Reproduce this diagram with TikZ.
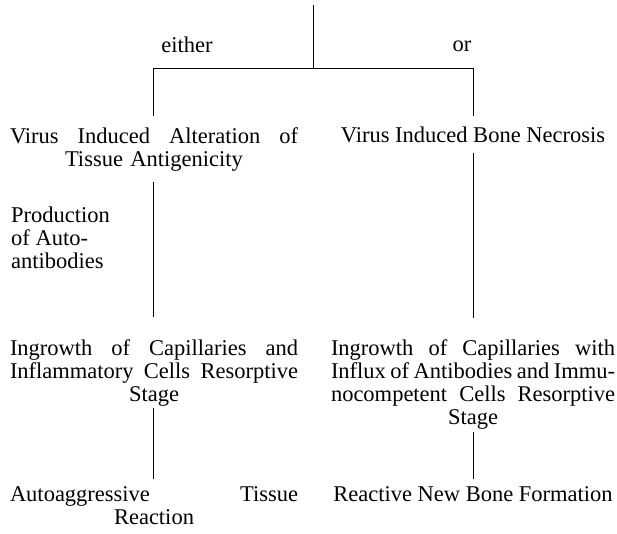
\documentclass[tikz,border=0pt]{standalone}
\usepackage{fontspec}
\setmainfont{Liberation Serif}
\newcommand{\jl}[1]{\leavevmode\hbox to 288pt{#1}}
\newcommand{\jr}[1]{\leavevmode\hbox to 284pt{#1}}
\tikzset{
  lbl/.style={inner sep=0pt, font=\fontsize{22.5}{23}\selectfont},
  lcol/.style={lbl, text width=288pt, align=center, anchor=north},
  rcol/.style={lbl, text width=284pt, align=center, anchor=north},
  rone/.style={lbl, anchor=north},
  ln/.style={line width=1pt}
}
\begin{document}
\begin{tikzpicture}[x=1pt,y=-1pt]
\useasboundingbox (0,0) rectangle (617,533);
% labels
\node[lbl] (either) at (187,45) {either};
\node[lbl] (or) at (462,46) {or};
% row 1
\node[lcol] (l1) at (154,127) {\jl{Virus\hfill Induced\hfill Alteration\hfill of}\\ Tissue Antigenicity};
\node[rone] (r1) at (473,127) {Virus Induced Bone Necrosis};
\node[lbl, anchor=north west, align=left] (prod) at (11,207) {Production\\ of Auto-\\ antibodies};
% row 3
\node[lcol] (l3) at (154,339) {\jl{Ingrowth\hfill of\hfill Capillaries\hfill and}\\ \jl{Inflammatory\hfill Cells\hfill Resorptive}\\ Stage};
\node[rcol] (r3) at (473,339) {\jr{Ingrowth\hfill of\hfill Capillaries\hfill with}\\ \jr{Influx\hfill of\hfill Antibodies\hfill and\hfill Immu-}\\ \jr{nocompetent\hfill Cells\hfill Resorptive}\\ Stage};
% row 4
\node[lcol] (l4) at (154,486) {\jl{Autoaggressive\hfill Tissue}\\ Reaction};
\node[rone] (r4) at (473,486) {Reactive New Bone Formation};
% connector points
\coordinate (top) at (313,5);
\coordinate (mid) at (313,68);
\coordinate (bl) at (153,68);
\coordinate (br) at (473,68);
\coordinate (blend) at (153,116);
\coordinate (brend) at (473,116);
\coordinate (m1a) at (153,182);
\coordinate (m1b) at (153,317);
\coordinate (m2a) at (473,153);
\coordinate (m2b) at (473,318);
\coordinate (n1a) at (153,408);
\coordinate (n1b) at (153,479);
\coordinate (n2a) at (473,432);
\coordinate (n2b) at (473,479);
\draw[ln] (top) -- (mid);
\draw[ln] (blend) -- (bl) -- (br) -- (brend);
\draw[ln] (m1a) -- (m1b);
\draw[ln] (m2a) -- (m2b);
\draw[ln] (n1a) -- (n1b);
\draw[ln] (n2a) -- (n2b);
\end{tikzpicture}
\end{document}
